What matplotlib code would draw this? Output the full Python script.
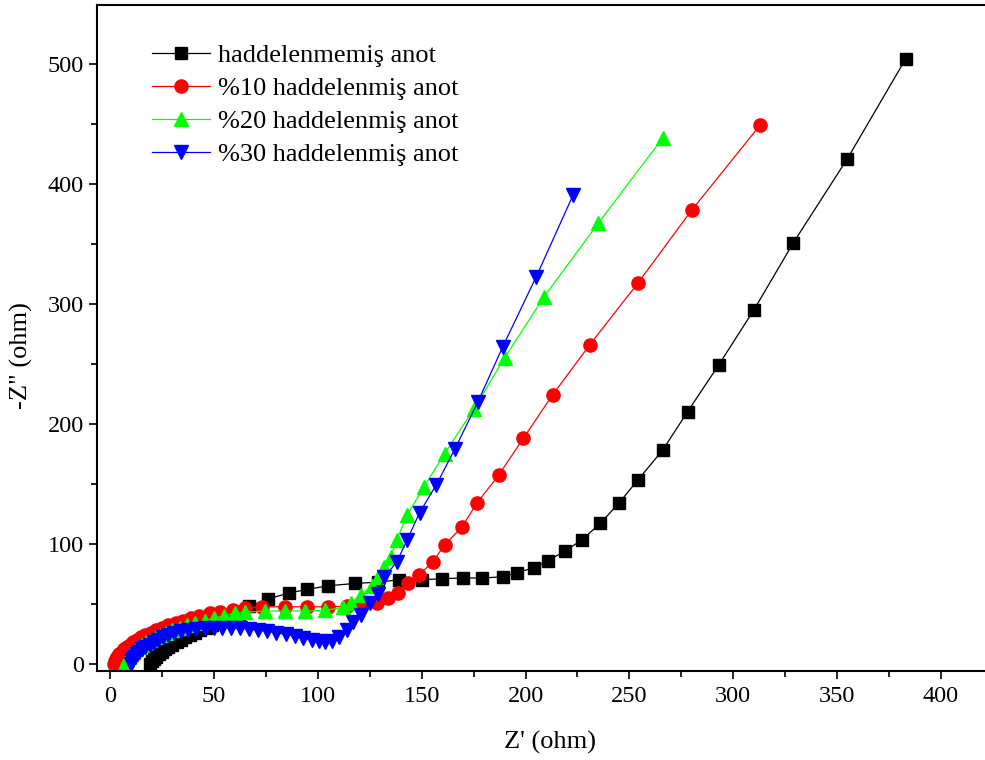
import matplotlib
matplotlib.use("Agg")
import matplotlib.pyplot as plt
from matplotlib.ticker import MultipleLocator

# haddelenmemiş anot
x0 = [19, 20, 21, 22, 23.5, 25, 26.5, 28, 30, 32, 34, 36, 38.5, 41, 43.5, 46, 49, 52, 55, 58.5, 62, 67,
      76, 86, 95, 105, 118, 129, 139,
      150, 160, 170, 179, 189, 196, 204, 211, 219, 227, 236, 245, 254, 266, 278, 293, 310, 329, 355, 383]
y0 = [0, 2, 4, 6, 8, 10, 12, 14, 16, 18, 20, 22, 24, 26, 28, 30, 32, 34, 36, 38, 40, 48,
      54, 59, 62, 65, 67, 68, 70,
      70, 71, 71.5, 71.5, 72.5, 76, 80, 86, 94, 103, 117, 134, 153, 178, 210, 249, 295, 351, 421, 504]

# %10 haddelenmiş anot
x1 = [2, 2.5, 3, 3.5, 4.5, 5.5, 6.5, 8, 9.5, 11, 13, 15, 17, 19.5, 22, 25, 28, 31.5, 35, 39, 43, 48,
      53, 59, 65, 73, 84, 95, 105, 114, 121, 128.5, 134, 138.6, 143.4, 148.7, 155.4, 161, 169.4,
      176.6, 187, 199, 213, 231, 254, 280, 313]
y1 = [0, 2, 4, 6, 8, 10, 12, 14, 16, 18, 20, 22, 24, 26, 28, 30, 32, 34, 36, 38, 40, 42,
      43.5, 45, 46.5, 47.5, 47.5, 47.5, 47.5, 48, 49.5, 51, 55, 59, 67, 74, 85, 99, 114,
      134, 157, 188, 224, 266, 317, 378, 449]

# %20 haddelenmiş anot
x2 = [7, 7.5, 8, 9, 10, 11, 12.5, 14, 15.5, 17.5, 19.5, 22, 24.5, 27, 30, 33.5, 37, 41, 45.5, 50,
      55, 60, 65, 74.6, 84, 93.8, 103.4, 112, 116, 121, 126, 129, 132, 135, 138, 143, 151, 161,
      175, 190, 209, 235, 266]
y2 = [0, 2, 4, 6, 8, 10, 12, 14, 16, 18, 20, 22, 24, 26, 28, 30, 32, 34, 36, 38,
      40, 42, 43, 44, 44, 44, 44.5, 47, 51, 57.5, 65, 72, 81, 89, 103, 124, 147, 175,
      212, 255, 306, 367, 438]

# %30 haddelenmiş anot
x3 = [10, 10.5, 11, 12, 13, 14, 15.5, 17, 19, 21, 23, 25.5, 28, 31, 34, 37.5, 41.5, 45.7, 50, 54,
      58, 62.6, 67, 71, 75.5, 80, 84.5, 89, 93, 97, 100.5, 103.5, 107, 110, 114, 117, 121, 125,
      129, 132, 138, 143, 149, 157, 166, 177, 189, 205, 223]
y3 = [0, 2, 4, 6, 8, 10, 12, 14, 16, 18, 20, 22, 24, 25.5, 27, 28, 29, 29.5, 30, 30,
      30, 29.5, 29, 28, 27, 26, 24.5, 23, 21.5, 20, 19, 18.5, 19, 22, 28, 35, 41, 51,
      58, 72, 85, 103, 126, 149, 179, 218, 264, 322, 391]

labels = ["haddelenmemiş anot", "%10 haddelenmiş anot", "%20 haddelenmiş anot", "%30 haddelenmiş anot"]

plt.rcParams['font.family'] = ['Liberation Serif', 'DejaVu Serif']

fig = plt.figure(figsize=(9.85, 7.6), dpi=100)
ax = fig.add_axes([0.0985, 0.1171, 0.920, 0.8763])

ax.plot(x0, y0, color='black', lw=0.9, marker='s', ms=8.5, mfc='black', mec='black', label=labels[0])
ax.plot(x1, y1, color='red', lw=0.9, marker='o', ms=9.5, mfc='red', mec='red', label=labels[1])
ax.plot(x2, y2, color='#00ff00', lw=0.9, marker='^', ms=10.5, mfc='#00ff00', mec='#00ff00', label=labels[2])
ax.plot(x3, y3, color='blue', lw=0.9, marker='v', ms=10.5, mfc='blue', mec='blue', label=labels[3])

ax.set_xlim(-6.3, 430)
ax.set_ylim(-6, 549)
ax.xaxis.set_major_locator(MultipleLocator(50))
ax.xaxis.set_minor_locator(MultipleLocator(25))
ax.yaxis.set_major_locator(MultipleLocator(100))
ax.yaxis.set_minor_locator(MultipleLocator(50))
ax.tick_params(which='major', direction='out', length=6, width=1.2, labelsize=17.5)
ax.tick_params(which='minor', direction='out', length=4, width=1.2)
ax.tick_params(axis='x', pad=5)
for s in ax.spines.values():
    s.set_linewidth(1.5)

ax.set_xlabel("Z' (ohm)", fontsize=19, labelpad=17)
ax.set_ylabel('-Z" (ohm)', fontsize=19)
ax.yaxis.set_label_coords(-0.071, 0.473)

ax.legend(loc='upper left', bbox_to_anchor=(0.034, 0.978), frameon=False, fontsize=19,
          handlelength=2.2, handletextpad=0.3, labelspacing=0.36)

fig.savefig("out.png", dpi=100)
